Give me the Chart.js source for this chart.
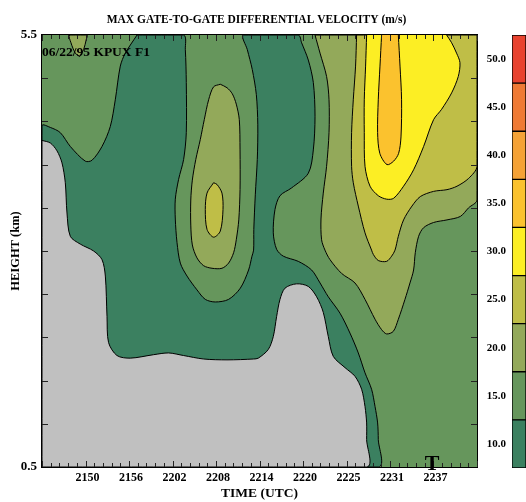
<!DOCTYPE html>
<html>
<head>
<meta charset="utf-8">
<script src="https://cdn.jsdelivr.net/npm/chart.js@4.4.0/dist/chart.umd.min.js"></script>
<style>
  html, body { margin: 0; padding: 0; background: #fff; }
  #wrap { position: relative; width: 526px; height: 502px; }
  #main { position: absolute; left: 0; top: 0; }
  #bar { position: absolute; left: 478px; top: 0; }
</style>
</head>
<body>
<div id="wrap">
  <canvas id="main" width="526" height="502"></canvas>
  <canvas id="bar" width="48" height="502"></canvas>
</div>
<script>
// x = minutes after 2100 UTC, y = height (km)
var timeTicks = [50.0, 55.9, 61.8, 67.7, 73.6, 79.5, 85.4, 91.3, 97.2];
var timeLabels = ['2150', '2156', '2202', '2208', '2214', '2220', '2225', '2231', '2237'];
var heightTicks = [0.5, 5.5];
var levels = [10, 15, 20, 25, 30, 35, 40, 45, 50];
var levelColors = ['#3b8060', '#66965c', '#93a95a', '#bfbe47', '#fcee24', '#fbc22e', '#f5a236', '#ef7a35', '#e8432f'];
var noDataColor = '#c0c0c0';
var tornadoTime = 97.0;

// contour regions (time, height)
var vel10 = [[56.99,5.5],[63.31,5.5],
  [63.54,5.33],[63.67,4.95],[63.67,4.37],[63.31,4.06],[62.63,3.83],[62.18,3.60],[62.18,3.37],[62.41,3.10],[62.86,2.86],[63.77,2.71],[65.12,2.55],[66.25,2.44],[67.61,2.41],[69.41,2.44],[71.00,2.57],[72.12,2.78],[72.58,2.94],[72.80,3.01],[72.83,3.25],[73.03,3.65],[73.30,4.06],[73.37,4.46],[73.17,4.81],[72.62,5.10],[71.95,5.33],[71.44,5.5],
  [78.86,5.5],[79.31,5.41],[80.22,5.21],[80.90,4.95],[81.13,4.56],[80.90,4.17],[80.22,3.90],[77.95,3.73],[76.38,3.64],[75.70,3.48],[75.47,3.21],[75.92,3.02],[76.83,2.94],[78.86,2.88],[80.67,2.78],[81.81,2.63],[82.93,2.47],[84.52,2.28],[85.87,2.05],[87.00,1.82],[87.91,1.59],[88.80,1.40],[89.27,1.20],[89.62,1.01],[89.71,0.82],[89.71,0.5],
  [44.1,0.5],[44.1,4.45],
  [45.23,4.43],[46.58,4.37],[47.94,4.21],[49.97,4.04],[50.88,4.05],[52.24,4.21],[53.36,4.44],[54.04,4.75],[54.72,5.14],[55.40,5.29],[56.99,5.5]];

var noData = [[44.1,4.28],[45.23,4.25],[46.13,4.16],[46.81,4.02],[47.26,3.79],[47.49,3.44],[47.94,3.17],[49.29,3.08],[51.10,3.00],[52.24,2.90],[52.69,2.71],[52.92,2.24],[53.13,1.94],[54.27,1.79],[56.08,1.76],[59.24,1.80],[61.27,1.82],[63.31,1.79],[66.02,1.75],[69.19,1.74],[72.80,1.75],[73.44,1.76],[74.79,1.86],[75.47,2.01],[75.92,2.24],[76.38,2.44],[77.06,2.57],[78.63,2.62],[80.22,2.59],[81.35,2.47],[82.25,2.29],[82.93,2.01],[83.61,1.78],[85.20,1.65],[86.55,1.55],[87.45,1.40],[87.91,1.20],[88.13,1.01],[88.13,0.82],[88.13,0.5],[44.1,0.5],[44.1,4.28]];

var nwVel20 = [[49.20,5.25],[49.74,5.33],[50.11,5.45],[50.20,5.5],[47.84,5.5],[48.03,5.41],[48.62,5.29],[49.20,5.25]];

var plumeVel20 = [[68.28,4.93],[67.37,4.90],[66.70,4.75],[66.11,4.52],[65.57,4.29],[64.96,4.06],[64.49,3.82],[64.28,3.59],[64.28,3.30],[64.49,3.07],[65.12,2.92],[66.02,2.83],[67.16,2.80],[68.51,2.80],[69.41,2.86],[70.09,2.98],[70.45,3.13],[70.79,3.36],[70.96,3.71],[70.96,4.17],[70.86,4.52],[70.45,4.70],[69.91,4.82],[69.19,4.89],[68.28,4.93]];

var plumeVel25 = [[67.37,3.79],[66.48,3.67],[66.25,3.48],[66.48,3.25],[67.37,3.16],[68.28,3.23],[68.65,3.48],[68.51,3.67],[67.84,3.77],[67.37,3.79]];

var eastVel20 = [[81.13,5.5],[103.1,5.5],[103.1,3.59],[101.96,3.50],[100.84,3.40],[99.03,3.36],[97.21,3.33],[95.86,3.27],[95.18,3.17],[94.73,2.98],[94.50,2.78],[94.01,2.63],[93.33,2.44],[92.43,2.21],[91.75,2.07],[90.84,2.04],[90.16,2.09],[89.27,2.21],[87.91,2.44],[86.55,2.63],[84.74,2.74],[83.16,2.90],[82.48,3.01],[82.02,3.13],[81.94,3.37],[82.25,3.67],[82.70,3.98],[83.03,4.37],[83.03,4.75],[82.70,5.02],[81.81,5.29],[81.13,5.5]];

var eastVel25 = [[86.77,5.5],[103.1,5.5],[103.1,3.98],[101.96,3.84],[100.39,3.75],[99.03,3.71],[97.21,3.69],[95.41,3.63],[94.28,3.52],[93.14,3.36],[92.43,3.17],[91.98,3.01],[91.52,2.94],[90.84,2.88],[89.71,2.89],[89.04,2.96],[88.80,3.01],[87.91,3.21],[87.00,3.52],[86.32,3.79],[86.09,3.98],[86.09,4.37],[86.32,4.75],[86.63,5.14],[86.77,5.5]];

var vel30 = [[88.13,5.5],[87.99,5.14],[87.81,4.75],[87.81,4.37],[87.91,3.98],[88.59,3.75],[89.71,3.64],[90.84,3.60],[91.79,3.61],[93.14,3.75],[94.50,3.94],[95.86,4.21],[97.21,4.52],[98.30,4.64],[99.66,4.83],[100.56,5.02],[100.79,5.18],[100.33,5.29],[99.66,5.41],[98.98,5.5]];

var vel35 = [[90.16,5.5],[89.94,5.14],[89.71,4.75],[89.62,4.37],[89.92,4.13],[90.89,4.00],[91.79,4.04],[92.47,4.13],[92.79,4.32],[92.87,4.75],[92.66,5.14],[92.43,5.5]];

var serif = "'Liberation Serif', 'Times New Roman', serif";

// bottom to top
var layers = [
  [vel10, levelColors[0]],
  [noData, noDataColor],
  [nwVel20, levelColors[2]],
  [plumeVel20, levelColors[2]],
  [eastVel20, levelColors[2]],
  [plumeVel25, levelColors[3]],
  [eastVel25, levelColors[3]],
  [vel30, levelColors[4]],
  [vel35, levelColors[5]]
];

var datasets = layers.map(function (l, i) {
  return {
    data: l[0].map(function (p) { return {x: p[0], y: p[1]}; }),
    showLine: true,
    fill: 'shape',
    backgroundColor: l[1],
    borderColor: '#000',
    borderWidth: 1,
    pointRadius: 0,
    tension: 0.3,
    order: layers.length - i
  };
});

var decor = {
  id: 'decor',
  beforeDatasetsDraw: function (chart) {
    var a = chart.chartArea, ctx = chart.ctx;
    ctx.save();
    ctx.fillStyle = levelColors[1];
    ctx.fillRect(a.left, a.top, a.right - a.left, a.bottom - a.top);
    ctx.restore();
  },
  afterDraw: function (chart) {
    var a = chart.chartArea, ctx = chart.ctx;
    var xs = chart.scales.x, ys = chart.scales.y;
    ctx.save();
    ctx.strokeStyle = '#000';
    ctx.lineWidth = 1;
    ctx.strokeRect(a.left - 0.5, a.top - 0.5, a.right - a.left + 1, a.bottom - a.top + 1);

    // inward tick marks
    ctx.strokeStyle = '#222';
    var step = (timeTicks[1] - timeTicks[0]) / 5;
    ctx.beginPath();
    for (var i = 0; xs.min + i * step <= xs.max + 1e-6; i++) {
      var px = Math.round(xs.getPixelForValue(xs.min + i * step)) + 0.5;
      var len = i % 5 === 0 ? 6 : 4;
      ctx.moveTo(px, a.bottom); ctx.lineTo(px, a.bottom - len);
      ctx.moveTo(px, a.top); ctx.lineTo(px, a.top + len);
    }
    for (var h = 1.0; h < 5.5; h += 0.5) {
      var py = Math.round(ys.getPixelForValue(h)) + 0.5;
      ctx.moveTo(a.left, py); ctx.lineTo(a.left + 6, py);
      ctx.moveTo(a.right, py); ctx.lineTo(a.right - 6, py);
    }
    ctx.stroke();

    ctx.fillStyle = '#000';
    ctx.textBaseline = 'alphabetic';
    ctx.textAlign = 'center';
    ctx.font = 'bold 11.5px ' + serif;
    ctx.fillText('MAX GATE-TO-GATE DIFFERENTIAL VELOCITY (m/s)', (a.left + a.right) / 2 - 3, 23);

    ctx.textAlign = 'left';
    ctx.font = 'bold 13.5px ' + serif;
    ctx.fillText('06/22/95 KPUX F1', a.left, 56);

    ctx.textAlign = 'center';
    ctx.font = 'bold 22px ' + serif;
    ctx.fillText('T', xs.getPixelForValue(tornadoTime), 470);
    ctx.restore();
  }
};

new Chart(document.getElementById('main'), {
  type: 'scatter',
  data: {datasets: datasets},
  options: {
    responsive: false,
    animation: false,
    events: [],
    layout: {padding: {top: 35, right: 49, bottom: 0, left: 0}},
    plugins: {legend: {display: false}, tooltip: {enabled: false}},
    scales: {
      x: {
        type: 'linear', min: 44.1, max: 103.1,
        afterBuildTicks: function (s) { s.ticks = timeTicks.map(function (v) { return {value: v}; }); },
        afterFit: function (s) { s.height = 35; },
        grid: {display: false, drawTicks: false},
        border: {display: false},
        ticks: {
          padding: 4, labelOffset: 2, color: '#000', maxRotation: 0, autoSkip: false,
          font: {family: serif, weight: 'bold', size: 12},
          callback: function (v, i) { return timeLabels[i]; }
        },
        title: {display: true, text: 'TIME (UTC)', color: '#000', padding: {top: 0, bottom: 0},
          font: {family: serif, weight: 'bold', size: 13.5}}
      },
      y: {
        type: 'linear', min: 0.5, max: 5.5,
        afterBuildTicks: function (s) { s.ticks = heightTicks.map(function (v) { return {value: v}; }); },
        afterFit: function (s) { s.width = 42; },
        grid: {display: false, drawTicks: false},
        border: {display: false},
        ticks: {
          padding: 5, color: '#000',
          font: {family: serif, weight: 'bold', size: 13},
          callback: function (v) { return v.toFixed(1); }
        },
        title: {display: true, text: 'HEIGHT (km)', color: '#000', padding: {top: 8, bottom: 0},
          font: {family: serif, weight: 'bold', size: 12.5}}
      }
    }
  },
  plugins: [decor]
});

// colour bar
new Chart(document.getElementById('bar'), {
  type: 'bar',
  data: {
    labels: [''],
    datasets: levels.map(function (lv, i) {
      return {
        data: [[lv - 2.5, lv + 2.5]],
        backgroundColor: levelColors[i],
        borderColor: '#000',
        borderWidth: 1,
        borderSkipped: false,
        barPercentage: 1,
        categoryPercentage: 1,
        grouped: false
      };
    })
  },
  options: {
    responsive: false,
    animation: false,
    events: [],
    layout: {padding: {top: 35, right: 0, bottom: 34, left: 0}},
    plugins: {legend: {display: false}, tooltip: {enabled: false}},
    scales: {
      x: {display: false},
      y: {
        min: 7.5, max: 52.5,
        afterBuildTicks: function (s) { s.ticks = levels.map(function (v) { return {value: v}; }); },
        afterFit: function (s) { s.width = 34; },
        grid: {display: false, drawTicks: false},
        border: {display: false},
        ticks: {
          padding: 6, color: '#000',
          font: {family: serif, weight: 'bold', size: 11},
          callback: function (v) { return v.toFixed(1); }
        }
      }
    }
  }
});
</script>
</body>
</html>
